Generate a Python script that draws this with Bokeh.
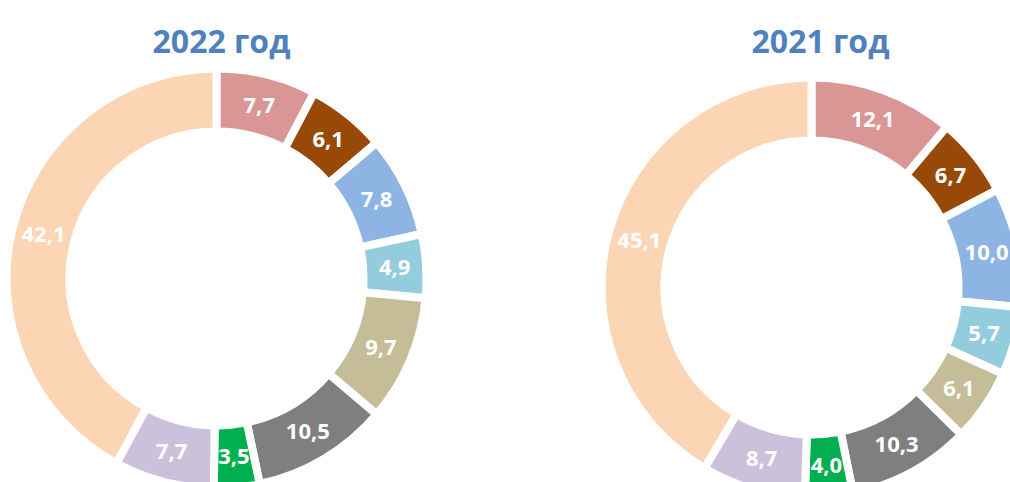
import numpy as np
from bokeh.plotting import figure
from bokeh.models import ColumnDataSource, Range1d
from bokeh.core.properties import value
from bokeh.embed import file_html
from bokeh.resources import INLINE

titles = ["2022 год", "2021 год"]
values_2022 = [7.7, 6.1, 7.8, 4.9, 9.7, 10.5, 3.5, 7.7, 42.1]
values_2021 = [12.1, 6.7, 10.0, 5.7, 6.1, 10.3, 4.0, 8.7, 45.1]
colors = ["#D99694", "#984807", "#8EB4E3", "#93CDDD", "#C4BD97",
          "#7F7F7F", "#00B050", "#CCC1DA", "#FCD5B5"]

W, H = 1010, 482
PAGE_H = 482
p = figure(width=W, height=H, output_backend="svg", toolbar_location=None,
           x_range=Range1d(0, W), y_range=Range1d(PAGE_H - H, PAGE_H),
           x_axis_type=None, y_axis_type=None, min_border=0)
p.grid.visible = False
p.outline_line_color = None
p.background_fill_color = "white"

FONT = "Open Sans"
R_OUT, R_IN, GAP = 206, 151, 8
centers = [(216, PAGE_H - 278), (811, PAGE_H - 287)]
title_pos = [(221, PAGE_H - 40), (820, PAGE_H - 40)]

for vals, (cx, cy), title, (tx, ty) in zip([values_2022, values_2021], centers, titles, title_pos):
    v = np.array(vals, dtype=float)
    total = v.sum()
    cum = np.concatenate([[0], np.cumsum(v)])
    start = np.pi / 2 - 2 * np.pi * cum[:-1] / total
    end = np.pi / 2 - 2 * np.pi * cum[1:] / total
    mid = (start + end) / 2
    rm = (R_OUT + R_IN) / 2
    src = ColumnDataSource(dict(
        x=[cx] * len(v), y=[cy] * len(v), start=start, end=end, color=colors,
        lx=cx + rm * np.cos(mid), ly=cy + rm * np.sin(mid),
        label=[f"{a:.1f}".replace(".", ",") for a in vals]))
    p.annular_wedge(x="x", y="y", inner_radius=R_IN - GAP / 2, outer_radius=R_OUT + GAP / 2,
                    start_angle="start", end_angle="end", direction="clock",
                    fill_color="color", line_color="white", line_width=GAP, source=src)
    p.text(x="lx", y="ly", text="label", source=src, text_color="white",
           text_font=value(FONT), text_font_style="bold", text_font_size="22px",
           text_align="center", text_baseline="middle")
    p.text(x=[tx], y=[ty], text=[title], text_color="#4F81BD", text_font=value(FONT),
           text_font_style="bold", text_font_size="32px", text_align="center",
           text_baseline="alphabetic")

open("out.html", "w").write(file_html(p, INLINE))
